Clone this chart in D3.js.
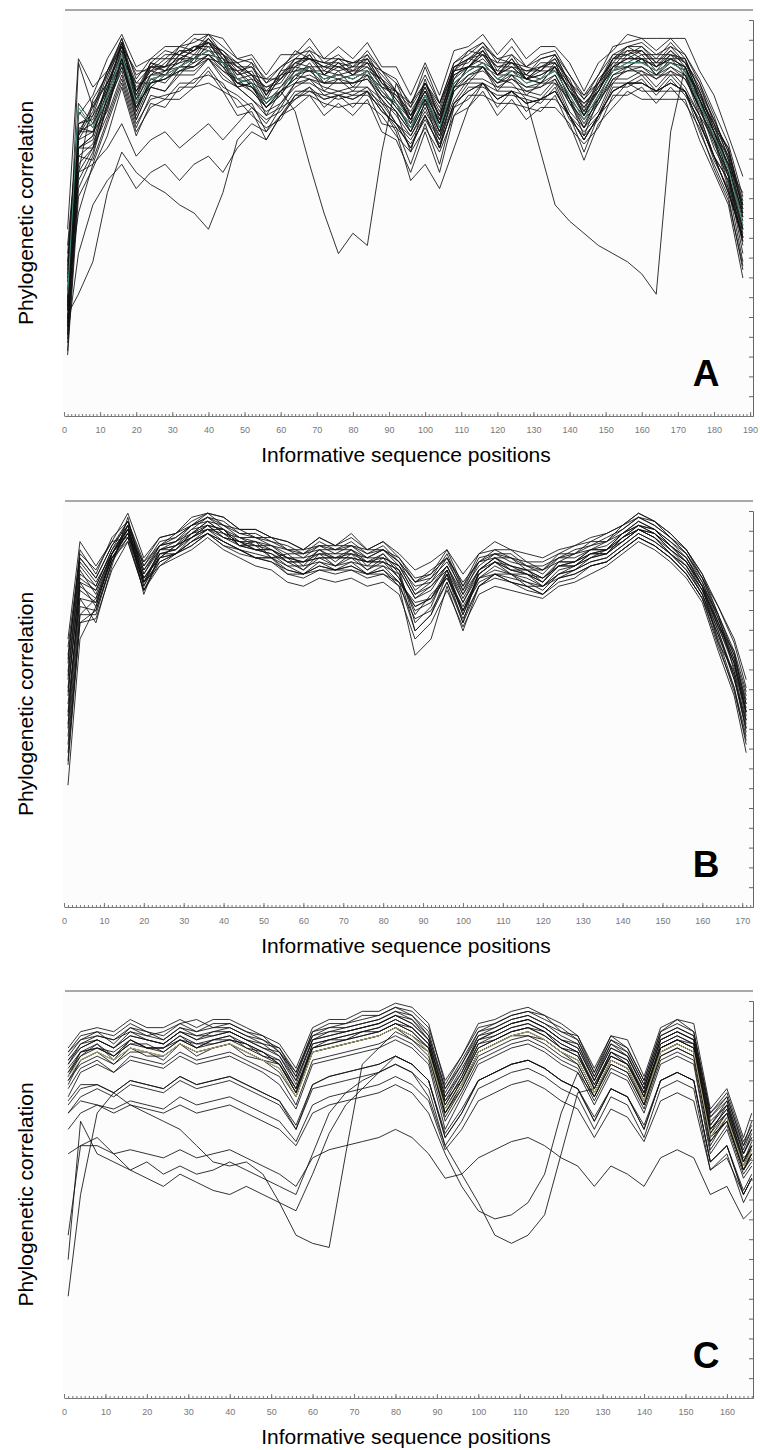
<!DOCTYPE html>
<html>
<head>
<meta charset="utf-8">
<script src="https://cdn.jsdelivr.net/npm/d3@7"></script>
<style>
  body { margin: 0; background: #fff; }
  svg text { font-family: Arial, "Liberation Sans", sans-serif; }
</style>
</head>
<body>
<script>
var width = 760,
    height = 1450;

// ---- panel A : sampled positions
var posA = [1,4,8,12,16,20,24,28,32,36,40,44,48,52,56,60,64,68,72,76,80,84,88,92,
            96,100,104,108,112,116,120,124,128,132,136,140,144,148,152,156,160,164,168,172,176,180,184,188];
var seriesA = [
  [28,87,76,85,93,80,87,90, 89,93,92,90,87,88,82,86, 88,91,87,89,86,90,85,83, 76,86,77,87,90,92,87,91, 86,89,90,84,79,84,91,92, 93,90,93,89,82,74,63,52],
  [22,68,70,80,92,77,86,86, 91,90,94,89,84,87,79,85, 90,88,86,88,87,88,82,80, 74,82,75,86,88,91,88,87, 84,88,89,82,76,82,88,91, 91,88,92,88,80,71,66,50],
  [42,72,73,81,88,82,82,85, 86,89,89,88,82,81,77,80, 83,87,82,85,81,85,79,77, 70,79,70,81,86,86,82,85, 83,82,86,78,71,79,85,86, 88,84,87,85,75,69,57,44],
  [30,60,78,84,91,85,85,88, 88,90,92,87,87,84,81,83, 87,89,84,87,84,88,82,78, 73,80,74,84,86,90,84,88, 83,86,87,80,77,80,88,89, 90,86,90,86,79,72,61,55],
  [18,56,64,77,85,73,81,80, 85,85,88,84,81,78,75,77, 82,83,81,80,81,81,78,72, 69,75,69,78,83,83,81,81, 80,79,83,75,71,75,83,83, 85,81,85,81,74,64,58,40],
  [46,88,81,85,91,82,86,86, 87,91,90,89,83,84,78,84, 85,89,84,87,84,87,81,80, 73,82,74,85,86,89,84,87, 83,85,85,81,74,81,85,89, 87,87,87,86,76,70,59,47],
  [24,66,69,80,87,77,81,84, 84,88,88,87,81,82,74,80, 82,86,80,83,80,84,77,75, 65,78,66,81,82,86,80,84, 79,82,82,78,69,78,82,86, 84,84,84,84,74,68,56,38],
  [33,68,74,80,92,79,86,85, 89,88,93,88,86,83,81,82, 87,86,86,85,86,86,83,78, 74,80,72,85,86,90,84,88, 83,86,86,82,74,82,86,90, 88,88,88,88,78,72,64,51],
  [38,70,76,82,89,80,85,84, 88,88,91,86,85,81,78,80, 85,85,84,83,84,84,81,76, 72,78,72,81,86,86,84,84, 83,82,86,78,74,78,86,86, 88,84,88,84,78,68,62,46],
  [20,64,63,73,83,71,79,78, 82,82,86,81,79,76,73,75, 80,80,79,78,79,79,76,71, 67,73,67,76,81,81,79,79, 78,77,81,73,69,73,81,81, 83,79,83,79,73,63,56,43],
  [27,71,70,75,88,73,81,80, 84,84,88,83,81,78,74,76, 82,82,80,79,80,80,77,72, 68,74,68,77,82,82,80,80, 79,78,82,74,70,74,82,82, 84,80,84,80,74,64,58,46],
  [15,54,61,69,81,69,77,76, 81,81,85,80,78,74,71,73, 79,79,77,76,77,77,74,69, 65,71,65,74,79,79,77,77, 76,75,79,71,67,71,79,79, 81,77,81,77,71,61,53,37],
  [34,74,79,88,94,86,88,91, 91,94,94,93,88,89,84,89, 89,93,88,91,88,92,86,86, 79,87,79,90,91,94,89,93, 88,91,91,87,80,87,90,94, 93,93,93,93,85,79,69,59],
  [36,69,77,82,91,79,87,86, 90,89,93,89,87,84,83,83, 88,88,87,86,87,87,85,80, 77,82,77,85,90,89,87,87, 86,85,89,82,79,82,89,89, 91,87,91,87,82,72,66,52],
  [31,77,72,79,90,76,84,84, 88,87,92,87,85,82,80,81, 86,85,85,84,85,85,83,77, 73,79,73,83,88,87,85,85, 84,83,87,80,76,80,87,87, 89,85,89,85,80,70,64,49],
  [26,66,68,78,86,75,83,82, 86,86,89,85,83,80,76,79, 84,83,82,82,82,83,79,75, 70,77,70,80,84,85,82,83, 81,81,84,77,73,77,84,85, 86,83,86,83,76,67,60,44],
  [23,66,66,74,84,72,78,79, 80,83,84,82,76,77,70,76, 78,81,76,79,76,80,72,71, 62,72,62,76,78,82,76,80, 75,78,78,74,65,74,78,82, 80,80,80,80,70,62,54,36],
  [19,60,62,72,82,70,76,78, 78,81,82,80,74,75,68,74, 76,79,74,77,74,78,70,68, 60,70,60,74,76,80,74,78, 73,76,76,72,63,72,76,80, 78,78,78,78,68,60,52,34],
  [29,70,72,82,90,81,84,87, 90,90,93,89,85,86,80,84, 87,88,86,86,85,87,82,79, 75,81,74,85,88,89,86,86, 85,85,88,81,77,81,88,88, 90,86,89,87,79,71,63,49],
  [35,66,69,83,92,78,87,85, 89,91,91,90,86,84,79,85, 86,90,85,88,85,89,83,80, 72,83,73,86,87,91,85,89, 84,87,87,83,75,83,87,91, 89,89,89,88,80,73,65,53],
  [21,62,66,79,89,75,83,84, 86,88,90,87,82,83,77,81, 85,86,83,84,83,85,80,76, 71,78,70,82,85,87,83,85, 82,83,85,79,73,79,85,87, 87,85,87,85,77,69,60,45],
  [40,72,74,84,93,83,88,88, 91,92,94,91,88,87,83,86, 89,90,88,88,87,89,85,82, 77,84,77,87,89,92,88,89, 86,88,89,84,78,84,89,91, 92,89,91,89,83,75,67,54],
  [16,58,65,76,88,74,82,83, 85,87,89,86,81,82,76,80, 83,84,82,82,82,83,78,74, 69,76,68,80,83,86,81,83, 80,81,83,77,71,77,83,85, 85,83,85,83,76,66,59,42],
  [37,75,71,81,91,80,85,86, 88,90,92,88,84,85,79,83, 86,88,84,86,84,86,81,79, 73,81,72,84,86,89,84,86, 83,84,86,80,75,80,86,88, 88,86,88,86,78,70,61,50],
  [27,69,75,85,92,84,86,89, 89,91,92,89,86,86,82,84, 88,88,87,87,86,88,84,80, 76,82,76,86,88,90,86,87, 85,86,88,82,78,82,88,90, 90,87,90,87,81,73,65,51],
  [22,64,67,77,87,76,82,83, 86,86,89,86,82,81,76,79, 84,85,82,83,82,84,79,75, 70,77,69,81,84,86,82,84, 81,82,84,78,72,78,84,86, 86,84,86,84,76,68,59,43],
  // lines that leave the bundle
  [24,60,66,76,86,76,82,83, 85,86,88,85,82,80,76,80, 75,62,50,40,45,42,65,82, 74,80,72,83,86,88,84,86, 83,84,86,80,74,80,86,88, 88,86,88,86,78,70,62,48],
  [26,70,70,78,88,78,84,85, 87,88,90,87,83,82,77,81, 84,86,83,84,83,85,80,77, 71,79,71,82,85,87,83,82, 78,65,52,48,45,42,40,38, 35,30,70,86,78,70,62,46],
  [25,30,38,55,65,60,57,55, 52,50,46,55,68,72,70,74, 78,80,78,79,78,80,75,72, 66,74,66,77,80,82,78,80, 77,78,80,74,68,74,80,82, 82,80,82,80,72,64,55,44],
  [20,40,52,58,62,56,60,62, 58,62,64,60,66,70,68,74, 79,81,78,79,78,80,75,72, 66,74,66,77,80,82,78,80, 77,78,80,74,68,74,80,82, 82,80,82,80,72,64,55,44],
  [30,50,62,66,72,64,68,70, 66,69,72,68,72,76,72,77, 81,83,79,80,79,81,76,70, 58,62,56,66,76,82,78,80, 77,78,80,74,68,74,80,82, 82,80,82,80,72,64,55,44]
];
var tealA = [30,76,71,79,89,77,83,84, 86,88,90,87,83,82,77,81, 84,86,83,84,83,85,80,77, 71,79,71,82,85,87,83,85, 82,83,85,79,73,79,85,87, 87,85,87,85,77,69,61,47];

// ---- panel B : sampled positions
var posB = [1,4,8,12,16,20,24,28,32,36,40,44,48,52,56,60,64,68,72,76,80,84,88,92,
            96,100,104,108,112,116,120,124,128,132,136,140,144,148,152,156,160,164,168,171];
var seriesB = [
  [60,88,82,91,95,85,91,92, 95,97,96,93,93,91,90,88, 91,89,92,88,90,87,83,85, 88,82,87,90,88,87,86,88, 89,91,92,94,97,95,92,88, 82,72,62,52],
  [45,80,74,86,92,79,88,88, 92,94,93,89,90,86,86,83, 87,84,87,83,86,81,74,76, 83,73,82,85,82,82,79,83, 84,86,88,90,93,91,88,84, 78,68,56,46],
  [35,70,73,85,94,77,87,87, 91,93,93,89,89,86,87,84, 88,85,88,84,87,82,68,72, 82,70,83,86,83,83,80,85, 85,88,88,92,94,93,89,86, 79,65,58,48],
  [66,90,84,90,91,85,89,92, 94,97,94,93,91,91,88,88, 89,89,89,88,88,86,80,83, 86,80,85,88,86,85,83,87, 87,90,90,94,96,95,91,88, 81,74,65,54],
  [50,76,70,84,96,80,84,87, 89,92,89,88,86,86,83,82, 84,83,84,82,83,79,62,66, 79,68,79,82,80,79,77,81, 82,84,85,88,91,89,86,82, 76,64,54,40],
  [58,85,80,87,93,83,89,90, 94,95,94,91,91,89,88,86, 89,87,89,86,88,84,79,80, 86,77,85,86,86,83,83,85, 87,88,90,92,95,93,90,86, 80,70,60,50],
  [40,72,76,86,90,78,86,87, 90,93,90,88,87,86,84,82, 85,83,85,82,84,80,75,76, 82,73,81,82,82,79,79,81, 83,85,86,89,92,90,87,83, 77,68,57,44],
  [62,86,81,89,94,84,90,91, 94,96,95,92,92,90,89,87, 90,88,90,87,89,85,80,81, 87,78,86,87,87,84,84,86, 88,89,91,93,96,94,91,87, 81,71,61,51],
  [30,66,74,87,93,81,86,89, 91,94,91,90,88,88,85,85, 86,86,86,85,85,83,70,74, 83,72,82,85,83,82,80,84, 84,87,87,91,93,92,88,85, 78,69,63,48],
  [52,82,79,88,95,82,89,90, 92,95,92,91,89,89,86,86, 87,87,87,86,86,84,77,80, 84,76,83,86,84,83,81,85, 85,88,88,92,94,93,89,86, 79,72,58,45],
  [56,83,77,87,92,81,86,89, 91,94,91,90,88,88,85,85, 86,86,86,85,85,83,76,79, 83,75,82,85,83,82,80,84, 84,87,87,91,93,92,88,85, 79,69,59,49],
  [48,78,75,86,91,80,85,87, 90,92,90,88,86,86,82,82, 83,83,83,82,82,80,68,72, 80,71,79,82,80,79,77,81, 82,84,85,88,91,89,86,82, 76,67,57,43],
  [64,87,83,90,97,86,91,92, 96,97,96,93,93,91,90,88, 91,89,91,88,90,86,81,82, 88,79,87,88,88,85,85,87, 89,90,92,94,97,95,92,88, 82,74,66,56],
  [42,74,73,85,93,79,86,87, 90,92,90,88,86,85,83,82, 84,83,84,82,83,80,74,76, 81,73,80,82,81,80,78,82, 83,85,86,89,92,90,87,83, 77,66,54,42],
  [38,70,71,83,90,78,84,86, 88,91,88,86,84,83,80,79, 81,80,81,79,80,77,66,70, 78,69,77,79,78,77,76,79, 80,82,84,87,90,88,85,81, 75,63,52,38],
  [54,80,78,87,92,81,87,88, 92,93,92,89,88,87,84,84, 85,84,85,84,84,82,72,77, 81,74,81,83,82,80,79,82, 83,86,87,90,93,91,87,84, 78,70,61,47],
  [47,79,76,87,94,80,88,89, 93,94,93,90,90,88,86,85, 88,86,88,85,87,83,76,78, 84,75,83,86,84,82,81,84, 85,87,88,91,94,92,89,85, 79,69,60,46],
  [57,84,79,88,93,82,88,90, 93,96,93,91,90,89,87,87, 88,88,88,86,88,85,78,81, 85,78,84,87,85,84,82,86, 86,88,89,92,95,93,90,87, 80,71,62,50],
  [44,76,75,86,92,80,87,88, 91,93,91,89,88,87,85,83, 86,84,86,83,85,81,73,75, 82,72,81,84,82,81,79,82, 84,86,87,90,93,91,87,84, 77,67,56,44],
  [61,86,81,89,95,84,89,91, 94,96,94,92,91,90,88,87, 89,88,89,87,88,85,80,82, 86,79,85,87,86,84,83,86, 87,89,90,93,96,94,91,87, 81,72,63,53],
  [36,72,72,85,91,78,85,87, 89,92,89,87,86,85,82,81, 83,82,83,81,82,79,71,73, 80,70,79,81,80,78,77,80, 81,84,85,88,91,89,86,82, 76,65,53,41],
  [53,81,78,87,94,83,88,89, 92,95,92,90,89,88,86,85, 87,86,87,85,86,84,77,79, 84,77,83,85,84,83,81,84, 85,87,88,91,94,92,89,85, 79,70,60,48]
];

// ---- panel C : sampled positions
var posC = [1,4,8,12,16,20,24,28,32,36,40,44,48,52,56,60,64,68,72,76,80,84,88,92,
            96,100,104,108,112,116,120,124,128,132,136,140,144,148,152,156,160,164,166];
var seriesC = [
  [84,88,90,87,91,89,90,92, 93,91,92,90,89,85,79,90, 92,92,94,94,96,95,91,78, 84,91,92,94,95,94,90,89, 80,89,86,78,90,93,90,70, 74,62,68],
  [80,84,87,83,88,86,86,89, 87,88,89,86,85,82,75,87, 88,89,90,91,93,91,87,72, 79,87,89,91,92,90,87,85, 76,85,83,74,87,89,87,65, 72,58,63],
  [78,82,84,82,85,85,83,87, 85,86,87,85,83,80,74,85, 86,87,88,89,91,89,85,70, 77,85,87,89,90,88,85,83, 75,83,81,73,85,87,85,62, 69,56,60],
  [82,86,88,86,89,88,87,90, 88,89,90,88,86,84,77,88, 89,90,91,92,94,92,88,74, 80,88,90,92,93,91,88,86, 78,86,84,76,88,90,88,68, 72,60,64],
  [86,90,91,90,93,91,91,93, 91,93,93,91,89,87,81,91, 93,93,95,95,97,96,92,77, 84,92,93,95,96,94,92,89, 81,89,88,79,91,93,92,71, 76,64,70],
  [79,85,86,84,87,87,85,88, 87,87,88,87,84,83,76,86, 87,88,89,90,92,90,86,73, 78,86,88,90,91,89,86,84, 77,84,82,75,86,88,86,64, 70,57,62],
  [76,81,83,80,84,83,82,85, 83,84,85,83,81,79,72,83, 84,85,86,87,89,87,83,68, 75,83,85,87,88,86,83,81, 73,81,79,71,83,85,83,61, 67,55,58],
  [83,87,89,88,90,89,88,91, 89,90,91,89,87,86,79,89, 90,91,92,93,95,93,89,75, 82,89,91,93,94,92,89,87, 79,87,85,77,89,91,89,69, 74,62,66],
  [81,85,86,85,88,86,86,88, 86,88,88,87,85,82,76,86, 88,88,90,90,92,91,87,71, 78,87,88,90,91,90,86,85, 76,85,82,75,86,88,87,66, 71,59,61],
  [77,83,85,83,86,84,84,87, 85,86,87,84,83,81,74,85, 86,87,88,89,91,88,85,69, 76,85,87,89,89,88,85,82, 74,83,81,72,85,87,85,63, 68,56,59],
  [85,89,90,89,92,90,89,92, 90,92,92,90,88,86,80,90, 91,92,93,94,96,94,90,76, 83,90,92,94,95,93,91,88, 80,88,86,78,90,92,90,70, 75,63,67],
  [74,80,82,80,83,82,81,84, 82,83,84,82,80,77,71,82, 83,84,85,86,88,86,82,66, 74,82,84,86,87,85,82,80, 72,80,78,70,82,84,82,60, 66,54,57],
  [83,86,88,86,89,88,87,90, 89,89,90,88,87,84,78,88, 90,90,91,92,94,93,88,74, 81,88,90,92,93,91,88,87, 78,86,84,76,88,90,88,67, 72,60,65],
  [80,85,87,84,88,86,86,89, 86,88,89,87,85,83,76,87, 88,89,90,91,93,91,87,72, 79,88,89,91,92,90,87,85, 77,85,83,75,87,89,87,66, 71,58,62],
  [85,88,89,88,91,90,88,91, 90,91,91,89,88,85,80,89, 91,91,92,93,95,94,89,76, 82,90,91,93,94,92,90,88, 79,88,85,77,89,91,89,69, 73,61,66],
  [78,83,85,82,86,85,84,87, 84,86,87,85,83,82,75,85, 86,87,88,89,91,89,86,70, 77,85,87,89,90,88,85,83, 75,83,81,73,85,87,85,63, 69,57,60],
  [82,87,88,86,90,88,87,90, 88,90,90,88,86,85,78,88, 89,90,91,92,94,92,88,73, 80,89,90,92,93,91,88,86, 78,87,84,76,88,90,88,67, 73,60,64],
  [79,84,86,84,87,86,85,88, 86,87,88,86,84,82,75,86, 87,88,89,90,92,90,86,71, 78,86,88,90,91,89,86,84, 76,84,82,74,86,88,86,65, 70,57,61],
  [72,76,77,75,78,77,76,79, 77,78,79,77,75,73,66,77, 79,80,81,82,84,82,78,64, 70,78,80,82,83,81,78,76, 68,76,74,66,78,80,78,58, 62,50,54],
  [73,77,77,75,78,77,76,79, 77,78,79,77,75,73,67,77, 79,80,81,82,84,82,78,65, 71,78,80,82,83,81,78,76, 69,76,74,67,78,80,78,58, 62,51,55],
  [70,73,72,71,73,72,71,74, 72,73,74,72,70,68,63,72, 74,75,76,77,79,77,73,61, 66,73,75,77,78,76,73,71, 64,71,69,63,73,75,73,56, 59,50,54],
  [60,62,62,60,61,60,59,61, 59,60,61,59,57,55,52,59, 61,62,63,64,66,64,60,54, 55,59,61,63,64,62,59,57, 52,57,55,52,59,61,59,50, 52,44,46],
  // lines that leave the bundle
  [25,50,70,75,72,70,68,66, 62,58,57,58,55,48,40,38, 37,60,82,86,90,88,84,70, 76,84,86,88,89,87,84,82, 74,82,80,72,84,86,84,64, 68,56,60],
  [70,74,76,74,77,76,75,78, 76,77,78,76,74,72,66,76, 77,78,79,80,82,80,74,62, 55,48,40,38,40,45,60,75, 76,84,82,74,86,88,86,66, 70,58,62],
  [66,70,72,70,72,71,70,72, 70,71,72,70,68,66,62,70, 72,73,74,75,77,75,70,60, 52,46,44,45,48,55,70,80, 74,82,80,72,84,86,84,64, 68,56,60],
  [40,62,64,60,56,54,52,55, 53,51,50,52,50,48,46,55, 65,72,76,80,84,82,78,64, 70,78,80,82,83,81,78,76, 68,76,74,66,78,80,78,58, 62,50,54],
  [34,68,60,58,56,58,55,57, 55,56,58,56,54,52,50,60, 70,75,78,80,82,80,76,62, 68,76,78,80,81,79,76,74, 66,74,72,64,76,78,76,56, 60,48,52]
];
var yellowC = [79,83,85,83,86,85,84,87, 85,86,87,85,83,81,74,85, 86,87,88,89,91,89,85,71, 77,85,87,89,90,88,85,83, 75,83,81,73,85,87,85,64, 69,57,61];

var panels = [
  {top: 10,  bottom: 416,  xMax: 190.8, pos: posA, series: seriesA, extra: tealA,   extraColor: "#3f8f80", label: "A"},
  {top: 501, bottom: 907,  xMax: 172.7, pos: posB, series: seriesB, extra: null,    extraColor: null,      label: "B"},
  {top: 991, bottom: 1398, xMax: 166.3, pos: posC, series: seriesC, extra: yellowC, extraColor: "#b8b070", label: "C"}
];

var svg = d3.select("body").append("svg")
    .attr("width", width)
    .attr("height", height);

panels.forEach(function(p) {
  var g = svg.append("g");

  var x = d3.scaleLinear().domain([0, p.xMax]).range([64, 753]);
  var y = d3.scaleLinear().domain([0, 100]).range([p.bottom, p.top]);
  var yTick = d3.scaleLinear().domain([0, 20]).range([p.bottom, p.top + 10]);

  g.append("rect")
      .attr("x", 63).attr("y", p.top)
      .attr("width", 690).attr("height", p.bottom - p.top)
      .attr("fill", "#fcfcfc");

  // top border
  g.append("line")
      .attr("x1", 65).attr("x2", 753)
      .attr("y1", p.top).attr("y2", p.top)
      .attr("stroke", "#555").attr("stroke-width", 1.2);

  var line = d3.line()
      .x(function(d, i) { return x(p.pos[i]); })
      .y(function(d) { return y(d); });

  g.append("g")
    .selectAll("path")
    .data(p.series)
    .enter().append("path")
      .attr("d", line)
      .attr("fill", "none")
      .attr("stroke", "#111")
      .attr("stroke-opacity", 0.85)
      .attr("stroke-width", 1);

  if (p.extra) {
    g.append("path")
        .datum(p.extra)
        .attr("d", line)
        .attr("fill", "none")
        .attr("stroke", p.extraColor)
        .attr("stroke-width", 1);
  }

  // right axis, ticks pointing inwards
  var ra = g.append("g")
      .attr("transform", "translate(753,0)")
      .call(d3.axisLeft(yTick).tickValues(d3.range(0, 21)).tickSize(4).tickFormat(""));
  ra.selectAll("path, line").attr("stroke", "#666");

  // bottom axis: minor ticks every position, labelled ticks every 10
  var minor = g.append("g")
      .attr("transform", "translate(0," + p.bottom + ")")
      .call(d3.axisBottom(x).tickValues(d3.range(0, Math.floor(p.xMax) + 1)).tickSizeInner(-2).tickSizeOuter(0).tickFormat(""));
  minor.selectAll("path, line").attr("stroke", "#777");

  var major = g.append("g")
      .attr("transform", "translate(0," + p.bottom + ")")
      .call(d3.axisBottom(x).tickValues(d3.range(0, p.xMax, 10)).tickSizeInner(-4).tickSizeOuter(0).tickPadding(11));
  major.select(".domain").remove();
  major.selectAll("line").attr("stroke", "#777");
  major.selectAll("text")
      .attr("fill", "#777")
      .style("font-size", "9px");

  g.append("text")
      .attr("x", 706).attr("y", p.bottom - 30)
      .attr("text-anchor", "middle")
      .style("font-size", "37px")
      .style("font-weight", "bold")
      .text(p.label);

  g.append("text")
      .attr("x", 406).attr("y", p.bottom + 46)
      .attr("text-anchor", "middle")
      .style("font-size", "21px")
      .text("Informative sequence positions");

  g.append("text")
      .attr("transform", "translate(33," + (p.top + p.bottom) / 2 + ")rotate(-90)")
      .attr("text-anchor", "middle")
      .style("font-size", "21px")
      .text("Phylogenetic correlation");
});
</script>
</body>
</html>
